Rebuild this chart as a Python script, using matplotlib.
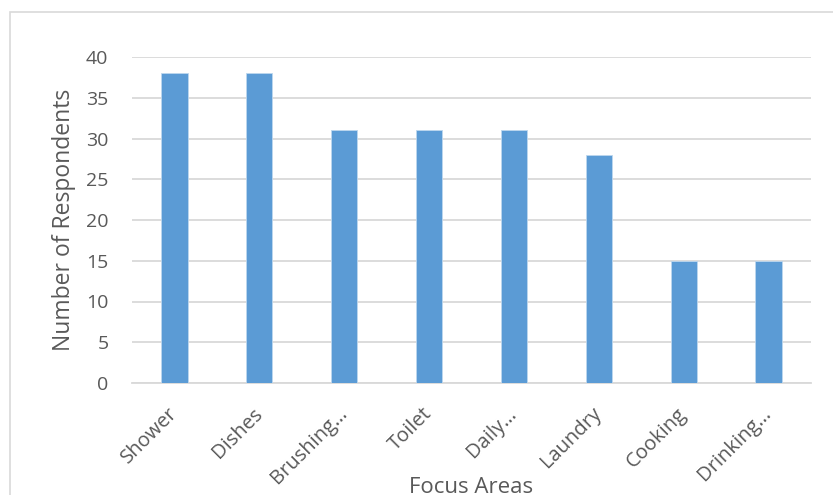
import matplotlib
matplotlib.use("Agg")
import matplotlib.pyplot as plt
from matplotlib.patches import Rectangle

# ---------------- Data ----------------
areas = ["Shower", "Dishes", "Brushing\u2026", "Toilet", "Daily\u2026",
         "Laundry", "Cooking", "Drinking\u2026"]
respondents = [38, 38, 31, 31, 31, 28, 15, 15]
y_ticks = [0, 5, 10, 15, 20, 25, 30, 35, 40]

BAR = "#5B9BD5"
GRID = "#D9D9D9"
TEXT = "#595959"

plt.rcParams["font.family"] = ["Open Sans", "DejaVu Sans"]

fig = plt.figure(figsize=(8.33, 4.95), dpi=100, facecolor="white")

# light chart frame
fig.patches.append(Rectangle((10 / 833, -0.05), 1.0, 1 - 12 / 495 + 0.05,
                             transform=fig.transFigure, fill=False,
                             edgecolor=GRID, lw=1.2))

ax = fig.add_axes([132 / 833, 1 - 383 / 495, (811 - 132) / 833, (383 - 57) / 495])
x = range(len(areas))
ax.bar(x, respondents, width=0.31, color=BAR, edgecolor="#BDD7EE", lw=0.6, zorder=3)

ax.set_xlim(-0.5, len(areas) - 0.5)
ax.set_ylim(0, 40)
ax.set_yticks(y_ticks)
ax.yaxis.grid(True, color=GRID, lw=1.3, zorder=0)
ax.set_axisbelow(True)
for s in ["top", "right", "left"]:
    ax.spines[s].set_visible(False)
ax.spines["bottom"].set_color(GRID)
ax.spines["bottom"].set_linewidth(1.3)

ax.tick_params(axis="y", length=0, pad=17, labelsize=14, labelcolor=TEXT)
ax.tick_params(axis="x", length=0, pad=20, labelsize=14.5, labelcolor=TEXT)
ax.set_xticks(list(x))
ax.set_xticklabels(areas, rotation=45, ha="right", va="center", rotation_mode="anchor")

ax.set_ylabel("Number of Respondents", fontsize=16.5, color=TEXT, labelpad=7)
ax.set_xlabel("Focus Areas", fontsize=16, color=TEXT, labelpad=-8)

fig.savefig("out.png", dpi=100, facecolor=fig.get_facecolor())
